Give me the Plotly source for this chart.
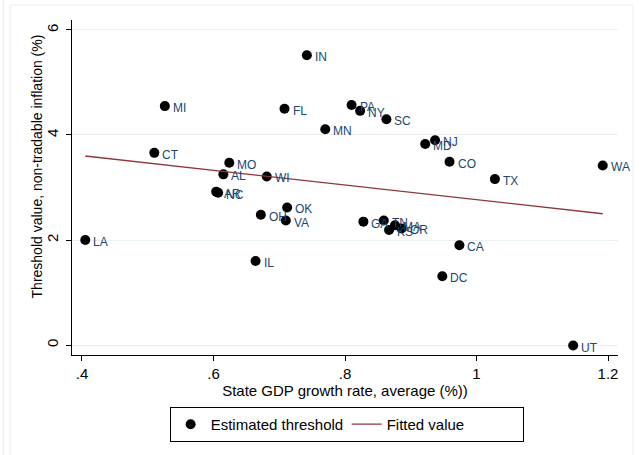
import plotly.graph_objects as go

# State-level estimates: average GDP growth vs. threshold for non-tradable inflation
states = ["IN", "MI", "FL", "CT", "MO", "AL", "WI", "AR", "NC", "OK", "VA", "OH",
          "LA", "IL", "PA", "NY", "SC", "MN", "MD", "NJ", "CO", "TX", "WA", "GA",
          "TN", "KS", "MA", "OR", "CA", "DC", "UT"]
gdp_growth = [0.742, 0.526, 0.708, 0.510, 0.624, 0.615, 0.681, 0.604, 0.607, 0.712,
              0.710, 0.672, 0.405, 0.664, 0.810, 0.823, 0.863, 0.770, 0.922, 0.937,
              0.959, 1.028, 1.192, 0.828, 0.859, 0.867, 0.876, 0.886, 0.974, 0.948,
              1.147]
threshold = [5.52, 4.55, 4.50, 3.66, 3.47, 3.25, 3.21, 2.92, 2.90, 2.62,
             2.37, 2.48, 2.00, 1.60, 4.57, 4.46, 4.30, 4.11, 3.83, 3.90,
             3.49, 3.16, 3.42, 2.35, 2.37, 2.19, 2.28, 2.22, 1.90, 1.31,
             -0.01]

# Linear fit endpoints
fit_x = [0.405, 1.192]
fit_y = [3.60, 2.50]

x_ticks = [0.4, 0.6, 0.8, 1.0, 1.2]
x_tick_text = [".4", ".6", ".8", "1", "1.2"]
y_ticks = [0, 2, 4, 6]

FONT = "Liberation Sans, Arial, Helvetica, sans-serif"
LABEL_BLUE = "#1a476f"
FIT_RED = "#90353b"
GRID = "#e9f0f2"

fig = go.Figure()

fig.add_trace(go.Scatter(
    x=gdp_growth, y=threshold, mode="markers",
    marker=dict(color="black", size=10, line=dict(width=0)),
    name="Estimated threshold", cliponaxis=False,
))
fig.add_trace(go.Scatter(
    x=fit_x, y=fit_y, mode="lines",
    line=dict(color=FIT_RED, width=1.3),
    name="Fitted value",
))

annotations = [
    dict(x=gx, y=ty, text=s, xref="x", yref="y", showarrow=False,
         xanchor="left", yanchor="middle", xshift=6, yshift=-2,
         font=dict(family=FONT, size=12, color=LABEL_BLUE))
    for s, gx, ty in zip(states, gdp_growth, threshold)
]

# y-axis title placed explicitly beside the rotated tick labels
annotations.append(dict(
    x=-0.064, y=0.563, xref="paper", yref="paper", showarrow=False,
    text="Threshold value, non-tradable inflation (%)", textangle=-90,
    xanchor="center", yanchor="middle",
    font=dict(family=FONT, size=14, color="black"),
))

# light outer frame of the graph region
frame_color = "#e6eef0"
shapes = [
    dict(type="rect", xref="paper", yref="paper",
         x0=-0.1136, x1=1.0275, y0=-0.33, y1=1.0448,
         line=dict(color=frame_color, width=1), layer="below"),
    dict(type="line", xref="paper", yref="paper",
         x0=-0.126, x1=-0.126, y0=-0.33, y1=1.1,
         line=dict(color=frame_color, width=1), layer="below"),
]

fig.update_layout(
    width=642, height=455,
    margin=dict(l=72, r=24, t=20, b=100),
    paper_bgcolor="white", plot_bgcolor="white",
    font=dict(family=FONT, size=14, color="black"),
    showlegend=True,
    legend=dict(
        orientation="h", x=0.503, xanchor="center", y=-0.155, yanchor="top",
        bordercolor="black", borderwidth=1, bgcolor="white",
        font=dict(family=FONT, size=15, color="black"),
        entrywidth=131, itemwidth=30,
    ),
    annotations=annotations,
    shapes=shapes,
    xaxis=dict(
        range=[0.3848, 1.2152], tickvals=x_ticks, ticktext=x_tick_text,
        showgrid=False, zeroline=False,
        showline=True, linecolor="black", linewidth=1,
        ticks="outside", ticklen=5, tickcolor="black",
        tickfont=dict(family=FONT, size=15),
        title=dict(text="State GDP growth rate, average (%))",
                   font=dict(family=FONT, size=15), standoff=2),
    ),
    yaxis=dict(
        range=[-0.19, 6.19], tickvals=y_ticks,
        showgrid=True, gridcolor=GRID, gridwidth=1, zeroline=False,
        showline=True, linecolor="black", linewidth=1,
        ticks="outside", ticklen=5, tickcolor="black", tickangle=-90,
        ticklabelstandoff=2,
        tickfont=dict(family=FONT, size=15),
    ),
)

fig.write_html("out.html")
